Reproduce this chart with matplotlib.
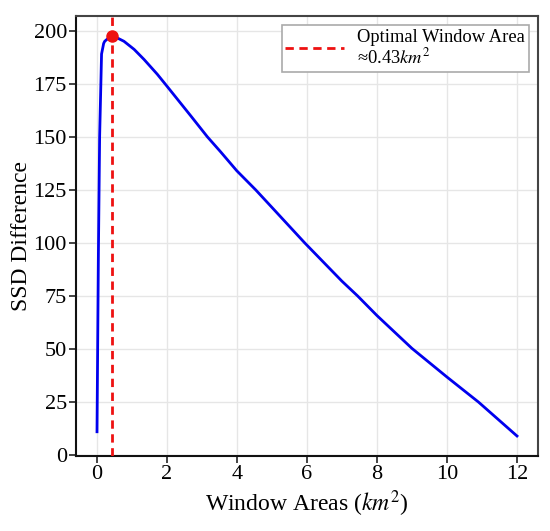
import matplotlib
matplotlib.use("Agg")
import matplotlib.pyplot as plt

# Data
window_areas = [0.01, 0.05, 0.085, 0.14, 0.2, 0.23, 0.3, 0.43, 0.6, 0.78, 1.07, 1.35,
                1.73, 2.0, 2.69, 3.16, 3.54, 4.0, 4.54, 5.0, 5.94, 7.0, 7.45, 8.0,
                9.0, 10.0, 10.9, 12.0]
ssd_diff = [11, 95, 150, 189, 194, 195, 196, 197.5, 196.5, 195, 191.2, 186.5,
            179.5, 174, 159.8, 150, 142.9, 134, 125, 116.8, 100, 82, 75, 65.8,
            50.3, 36.8, 25, 9]
optimal_area = 0.43
optimal_value = 197.5
x_ticks = [0, 2, 4, 6, 8, 10, 12]
y_ticks = [0, 25, 50, 75, 100, 125, 150, 175, 200]

plt.rcParams['font.family'] = ['Liberation Serif', 'DejaVu Serif']
plt.rcParams['mathtext.fontset'] = 'stix'

fig = plt.figure(figsize=(5.5, 5.31), dpi=100)
ax = fig.add_axes([76/550, 1-456/531, (538-76)/550, (456-16)/531])

ax.grid(True, color='#e6e6e6', linewidth=1.0, zorder=0)
ax.set_axisbelow(True)

ax.plot(window_areas, ssd_diff, color='#0000ee', linewidth=2, zorder=3)
ax.axvline(optimal_area, color='#ee1111', linestyle=(0, (3, 2)), linewidth=2,
           label='Optimal Window Area\n≈0.43$km^2$', zorder=4)
ax.plot([optimal_area], [optimal_value], 'o', color='#ee1111', markersize=8, zorder=5)

ax.set_xticks(x_ticks)
ax.set_yticks(y_ticks)
ax.tick_params(axis='both', labelsize=16, length=5, width=1.2, pad=1.5,
               direction='out', color='#222222')
ax.set_xlabel('Window Areas ($km^2$)', fontsize=17, labelpad=3)
ax.set_ylabel('SSD Difference', fontsize=17, labelpad=1)

for side in ['left', 'bottom']:
    ax.spines[side].set_color('#111111')
    ax.spines[side].set_linewidth(1.5)
for side in ['top', 'right']:
    ax.spines[side].set_color('#444444')
    ax.spines[side].set_linewidth(1.5)

leg = ax.legend(loc='upper right', fontsize=13.3, frameon=True, fancybox=False,
                edgecolor='#aaaaaa', framealpha=1, handlelength=3.2, handletextpad=0.7,
                borderpad=0.2, borderaxespad=0.5)
leg.get_frame().set_linewidth(1.2)
for t in leg.get_texts():
    t.set_linespacing(1.12)

fig.savefig('out.png', dpi=100)
